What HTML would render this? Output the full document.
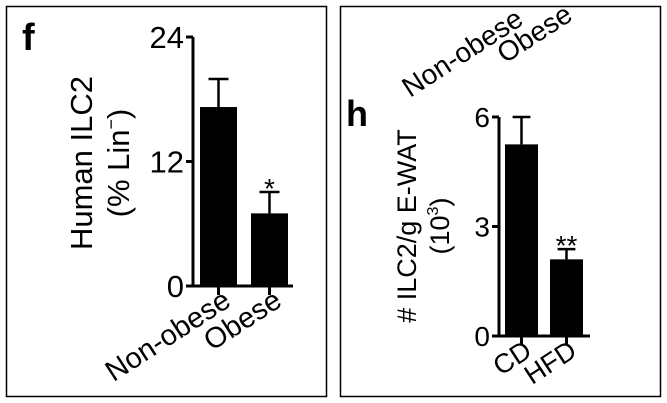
<!DOCTYPE html>
<html><head><meta charset="utf-8"><style>
body{margin:0;background:#fff;}
svg{display:block;font-family:"Liberation Sans",Arial,sans-serif;}
</style></head><body>
<svg id="c" width="667" height="403" viewBox="0 0 667 403">
<rect x="6.5" y="6.5" width="320" height="390" fill="none" stroke="#000" stroke-width="1.5"/>
<rect x="340.5" y="6.5" width="320" height="390" fill="none" stroke="#000" stroke-width="1.5"/>
<text x="22" y="50" font-size="38" font-weight="bold">f</text>
<text x="346" y="126" font-size="36" font-weight="bold">h</text>
<text transform="translate(92,163) rotate(-90)" text-anchor="middle" font-size="31">Human ILC2</text>
<text transform="translate(129,163) rotate(-90)" text-anchor="middle" font-size="31">(% Lin<tspan font-size="18" dy="-12">−</tspan><tspan dy="12">)</tspan></text>
<text transform="translate(416,226) rotate(-90)" text-anchor="middle" font-size="27"># ILC2/g E-WAT</text>
<text transform="translate(449,226) rotate(-90)" text-anchor="middle" font-size="27">(10<tspan font-size="16" dy="-11">3</tspan><tspan dy="11">)</tspan></text>
<text transform="translate(410,98) rotate(-33)" font-size="28">Non-obese</text>
<text transform="translate(505,64) rotate(-33)" font-size="28">Obese</text>
<g id="pf"></g><g id="ph"></g>
</svg>
<script>
const catsF=["Non-obese","Obese"];
const valsF=[17.25,7.0];
const errF=[2.7,2.06];
const ticksF=[0,12,24];
const starsF=["","*"];
const catsH=["CD","HFD"];
const valsH=[5.25,2.1];
const errH=[0.75,0.28];
const ticksH=[0,3,6];
const starsH=["","**"];
const NS="http://www.w3.org/2000/svg";
function mk(p,t,a){const e=document.createElementNS(NS,t);for(const k in a)e.setAttribute(k,a[k]);p.appendChild(e);return e;}
function draw(g,o){
  const y=v=>o.y0-(v/o.max)*(o.y0-o.yTop);
  let e=mk(g,'line',{x1:o.ax,y1:o.yTop,x2:o.ax,y2:o.y0,stroke:'#000','stroke-width':3});
  
  e=mk(g,'line',{x1:o.ax-1.5,y1:o.y0,x2:o.axEnd,y2:o.y0,stroke:'#000','stroke-width':3});
  
  o.ticks.forEach(t=>{
    e=mk(g,'line',{x1:o.ax-7,y1:y(t),x2:o.ax,y2:y(t),stroke:'#000','stroke-width':3});
    
    e=mk(g,'text',{x:o.ax-9,y:y(t)+o.fs*0.36,'text-anchor':'end','font-size':o.fs});
    e.textContent=t;
    
  });
  o.cats.forEach((c,i)=>{
    const x0=o.bx[i],w=o.bw,cx=x0+w/2;
    e=mk(g,'line',{x1:cx,y1:y(o.vals[i]+o.err[i]),x2:cx,y2:y(o.vals[i]),stroke:'#000','stroke-width':2.5});
    
    e=mk(g,'line',{x1:cx-w*0.27,y1:y(o.vals[i]+o.err[i]),x2:cx+w*0.27,y2:y(o.vals[i]+o.err[i]),stroke:'#000','stroke-width':2.5});
    
    e=mk(g,'rect',{x:x0,y:y(o.vals[i]),width:w,height:o.y0-y(o.vals[i]),fill:'#000'});
    
    e=mk(g,'line',{x1:cx,y1:o.y0,x2:cx,y2:o.y0+9,stroke:'#000','stroke-width':3});
    
    if(o.stars[i]){
      e=mk(g,'text',{x:cx,y:y(o.vals[i]+o.err[i])+6,'text-anchor':'middle','font-size':28});
      e.textContent=o.stars[i];
      
    }
    const lx=cx+o.lo,ly=o.y0+19;
    e=mk(g,'text',{x:lx,y:ly,'text-anchor':'end','font-size':o.xfs,transform:'rotate(-33 '+lx+' '+ly+')'});
    e.textContent=c;
    
  });
}
draw(document.getElementById('pf'),{id:'f',ax:193,axEnd:293,y0:286,yTop:37,max:24,ticks:ticksF,cats:catsF,vals:valsF,err:errF,stars:starsF,bx:[200,251],bw:37,fs:31,xfs:29,lo:14});
draw(document.getElementById('ph'),{id:'h',ax:499,axEnd:590,y0:336,yTop:117,max:6,ticks:ticksH,cats:catsH,vals:valsH,err:errH,stars:starsH,bx:[505,550],bw:33,fs:28,xfs:27,lo:12});
</script>
</body></html>
